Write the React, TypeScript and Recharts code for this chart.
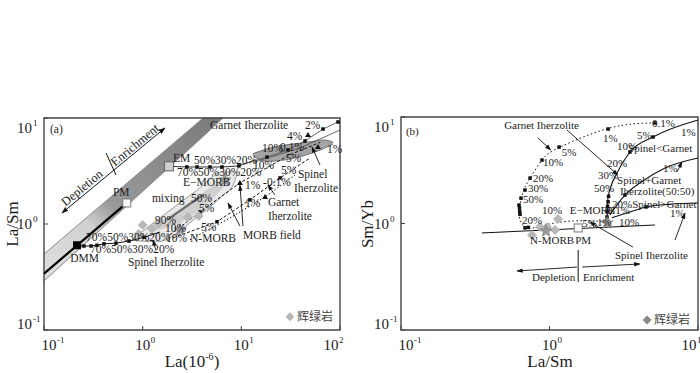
import React from "react";
import { ComposedChart, XAxis, YAxis, Line, Area, Scatter, ReferenceArea } from "recharts";

const SERIF = '"Liberation Serif", "Times New Roman", serif';
const CJK = '"Noto Sans CJK SC", "Noto Sans CJK JP", sans-serif';
const INK = "#1c1c1c";

// ---------- panel (a): La/Sm vs La ----------
const aXTicks = [0.1, 1, 10, 100];
const aYTicks = [0.1, 1, 10];

const aBand = [[0.1, 0.29, 0.52], [4.1, 6.7, 10], [6.5, 10, 10]];
const aDmmPm = [[0.1, 0.34], [0.69, 1.58]];
const aDmmMix = [[0.216, 0.63], [0.254, 0.62], [0.3, 0.62], [0.344, 0.63], [0.405, 0.65], [0.537, 0.66], [0.727, 0.69], [1.03, 0.75], [1.5, 0.84]];
const aEmMix = [[1.85, 3.5], [2.81, 3.45], [3.56, 3.45], [4.81, 3.45], [6.37, 3.45], [9.46, 3.53], [13.7, 4.0]];
const aMorbField = [[0.8, 0.7, 0.73], [1.4, 0.68, 1.09], [3.56, 1.16, 2.09], [6.5, 1.86, 3.1], [8.2, 2.3, 3.1], [9.0, 2.9, 3.05]];
const aMorbInner = [[1.3, 0.86, 0.92], [2.5, 1.05, 1.45], [4.5, 1.55, 2.1], [6.8, 2.3, 2.75]];
const aGarnetField = [[13.1, 4.4, 4.6], [18, 3.9, 5.1], [46, 4.5, 5.9], [70, 5.2, 6.2], [85, 5.7, 5.9]];
const aGarnetLine = [[9.68, 3.6], [18.2, 4.28], [29.7, 5.0], [44.2, 6.07], [67.3, 7.87], [95.5, 9.17]];
const aSpinelLine = [[13.7, 3.85], [39.3, 5.21], [100, 7.7]];
const aMixLine = [[1.76, 1.09], [4.09, 1.88]];
const aDash1 = [[1.89, 0.79], [3.81, 1.3], [9.68, 2.44], [31, 4.5], [63, 5.9]];
const aDash2 = [[2.03, 0.74], [5.67, 1.05], [12.2, 1.69], [24.7, 2.72], [49.7, 4.2]];
const aDash3 = [[3.02, 0.71], [7.67, 1.14], [17.4, 1.8], [35, 2.9]];
const aSquares = [...aDmmMix.slice(1, 8), ...aEmMix.slice(1, 6), ...aGarnetLine.slice(1), [12.2, 1.69], [24.7, 2.72], [5.67, 1.05], [3.81, 1.3]];
const aTriangles = [[47.4, 6.9], [59.8, 5.32], [9.68, 2.44], [17.4, 1.8]];
const aDiamonds = [[1.0, 0.98], [0.91, 0.81], [1.24, 0.9], [1.43, 1.0], [2.87, 1.16], [3.7, 1.19]];
const aStars = [[2.4, 0.88], [6.8, 2.6]];
const aPM = [[0.69, 1.58]];
const aEM = [[1.85, 3.5]];
const aDMM = [[0.216, 0.63]];
const aArrows = [
  [[1.36, 0.569], [1.27, 0.706]],
  [[9.68, 0.957], [7.33, 1.58]],
  [[10.4, 0.957], [9.68, 2.33]],
  [[21.9, 1.88], [18.6, 2.33]],
  [[62.7, 3.6], [52, 5.33]],
];
const aTrend = [[0.152, 1.27], [1.68, 8.05]];
const aDivider = [[0.425, 4.68], [0.537, 2.9]];
const aTrendLabels: [number, number, string][] = [[0.243, 2.19, "Depletion"], [0.836, 5.56, "Enrichment"]];
const aLabels: [number, number, string][] = [
  [0.115, 7.21, "(a)"],
  [4.81, 7.87, "Garnet  Iherzolite"],
  [44.2, 7.87, "2%"],
  [29, 6.2, "4%"],
  [16.2, 4.78, "10%"],
  [24.7, 4.89, "0.1%"],
  [73.8, 4.68, "1%"],
  [28.4, 3.85, "5%"],
  [25.2, 2.96, "5%"],
  [37.5, 2.72, "Spinel"],
  [34.2, 2.0, "Iherzolite"],
  [16.6, 2.28, "-0.1%"],
  [10.9, 2.14, "1%"],
  [18.6, 1.48, "Garnet"],
  [18.6, 1.09, "Iherzolite"],
  [10.9, 1.45, "1%"],
  [10.4, 0.722, "MORB field"],
  [2.03, 3.85, "EM"],
  [3.31, 3.68, "50%30%20%"],
  [13.1, 3.3, "10%"],
  [2.23, 2.84, "70%50%30%20%"],
  [2.56, 2.28, "E\u2212MORB"],
  [1.24, 1.61, "mixing"],
  [3.09, 1.61, "50%"],
  [0.5, 1.84, "PM"],
  [3.72, 1.3, "5%"],
  [3.9, 0.859, "5%"],
  [1.33, 1.0, "90%"],
  [1.68, 0.84, "10%"],
  [1.72, 0.676, "10%"],
  [3.02, 0.676, "N-MORB"],
  [0.267, 0.692, "70%50%30%20%"],
  [0.292, 0.532, "70%50%30%20%"],
  [0.184, 0.438, "DMM"],
  [0.71, 0.402, "Spinel Iherzolite"],
];
const aLegendMark = [[31.1, 0.133]];
const aLegendText: [number, number, string][] = [[36.6, 0.1216, "辉绿岩"]];

// ---------- panel (b): Sm/Yb vs La/Sm ----------
const bXTicks = [0.1, 1, 10];
const bYTicks = [0.1, 1, 10];

const bHoriz = [[0.351, 0.815], [5.13, 0.968]];
const bGarnetCurve = [[5.13, 8.79], [2.55, 7.89], [1.18, 5.22], [0.89, 3.94], [0.74, 2.67], [0.664, 1.98], [0.633, 1.49], [0.623, 1.25], [0.643, 1.03], [0.706, 0.908], [0.824, 0.927], [1.18, 1.03], [1.79, 1.06], [2.44, 1.03]];
const bSpLtGt = [[2.44, 1.08], [2.48, 1.77], [2.85, 2.98], [3.48, 4.69], [4.98, 6.49], [10, 9.37]];
const bSpEqGt = [[2.55, 1.2], [3.22, 1.85], [4.06, 2.4], [6.0, 3.32], [10, 4.12]];
const bSpGtGt = [[2.63, 1.13], [3.48, 1.28], [4.47, 1.43], [6.58, 1.52], [10, 1.56]];
const bSquares = [[5.13, 8.79], [2.48, 7.71], [1.16, 5.22], [0.89, 3.94], [0.74, 2.67], [0.684, 2.06], [0.643, 1.73], [0.623, 1.49], [0.628, 1.4], [0.63, 1.3], [0.633, 1.22], [0.684, 0.91], [0.72, 0.92], [3.48, 4.69], [4.98, 6.49], [2.44, 1.15], [2.45, 1.3], [2.46, 1.45], [2.48, 1.6], [2.5, 1.8], [3.22, 1.85], [4.47, 1.43]];
const bDiamonds = [[0.762, 0.78], [0.863, 0.927], [0.962, 0.927], [1.09, 0.869], [1.14, 1.1]];
const bStars = [[0.947, 0.85], [2.44, 1.01]];
const bPM = [[1.56, 0.908]];
const bArrows = [
  [[0.837, 6.35], [1.02, 4.9]],
  [[1.31, 7.55], [2.89, 2.85]],
  [[3.65, 0.6], [1.87, 1.03]],
  [[7.0, 0.7], [8.18, 1.25]],
  [[7.22, 3.05], [7.8, 3.78]],
  [[1.53, 0.39], [0.604, 0.358]],
  [[1.66, 0.39], [4.06, 0.417]],
];
const bDivider = [[1.56, 0.564], [1.56, 0.282]];
const bLabels: [number, number, string][] = [
  [0.108, 6.78, "(b)"],
  [0.495, 7.71, "Garnet  Iherzolite"],
  [4.9, 8.05, "0.1%"],
  [7.68, 6.63, "1%"],
  [3.88, 6.21, "5%"],
  [2.29, 5.82, "1%"],
  [2.85, 4.9, "10%"],
  [3.38, 4.69, "Spinel<Garnet"],
  [1.21, 4.31, "5%"],
  [0.904, 3.47, "10%"],
  [0.774, 2.45, "20%"],
  [0.717, 1.98, "30%"],
  [0.664, 1.56, "50%"],
  [2.44, 3.39, "20%"],
  [2.12, 2.62, "30%"],
  [2.85, 2.35, "Spinel+Garnet"],
  [1.99, 1.98, "50%"],
  [2.98, 1.84, "Iherzolite(50:50)"],
  [5.81, 3.04, "1%"],
  [2.64, 1.4, "20%Spinel>Garnet"],
  [1.37, 1.23, "E\u2212MORB"],
  [2.44, 1.22, "0.1%"],
  [6.47, 1.15, "1%"],
  [2.94, 0.947, "10%"],
  [0.89, 1.23, "10%"],
  [0.653, 0.989, "20%"],
  [1.66, 0.927, "5%"],
  [2.09, 0.947, "1%"],
  [0.74, 0.642, "N-MORB"],
  [1.49, 0.642, "PM"],
  [2.76, 0.465, "Spinel Iherzolite"],
  [0.762, 0.288, "Depletion"],
  [1.68, 0.288, "Enrichment"],
];
const bLegendMark = [[4.54, 0.124]];
const bLegendText: [number, number, string][] = [[5.06, 0.1138, "辉绿岩"]];

// ---------- helpers ----------
const pts = (a: number[][]) => a.map(([x, y]) => ({ x, y }));
const rng = (a: number[][]) => a.map(([x, lo, hi]) => ({ x, r: [lo, hi] }));
const lbl = (a: [number, number, string][]) => a.map(([x, y, t]) => ({ x, y, t }));
// tick positions along the bottom / left edge of a log axis
const xTickPts = (ticks: number[], y0: number) =>
  ticks.map((v, i) => ({ x: v, y: y0, e: Math.round(Math.log10(v)), pos: i === 0 ? "lo" : i === ticks.length - 1 ? "hi" : "mid" }));
const yTickPts = (ticks: number[], x0: number) =>
  ticks.map((v, i) => ({ x: x0, y: v, e: Math.round(Math.log10(v)), pos: i === 0 ? "lo" : i === ticks.length - 1 ? "hi" : "mid" }));

const squareShape = (s: number, fill: string, stroke = "none") => (p: any) => (
  <rect x={p.cx - s / 2} y={p.cy - s / 2} width={s} height={s} fill={fill} stroke={stroke} strokeWidth={1} />
);
const diamondShape = (r: number, fill: string) => (p: any) => (
  <polygon points={`${p.cx},${p.cy - r} ${p.cx + r},${p.cy} ${p.cx},${p.cy + r} ${p.cx - r},${p.cy}`} fill={fill} />
);
const triShape = (p: any) => (
  <polygon points={`${p.cx},${p.cy - 3} ${p.cx + 3},${p.cy + 2} ${p.cx - 3},${p.cy + 2}`} fill="#111" />
);
const starShape = (p: any) => {
  const c: string[] = [];
  for (let i = 0; i < 10; i++) {
    const r = i % 2 === 0 ? 6.5 : 2.8;
    const a = (Math.PI / 5) * i - Math.PI / 2;
    c.push(`${p.cx + r * Math.cos(a)},${p.cy + r * Math.sin(a)}`);
  }
  return <polygon points={c.join(" ")} fill="#9a9a9a" stroke="#777" strokeWidth={0.6} />;
};
const textShape = (size: number) => (p: any) => (
  <text x={p.cx} y={p.cy} fontSize={size} fontFamily={SERIF} fill={INK}>
    {p.payload.t}
  </text>
);
const rotText = (angle: number) => (p: any) => (
  <text
    x={p.cx}
    y={p.cy}
    fontSize={12.5}
    fontFamily={SERIF}
    fill={INK}
    textAnchor="middle"
    dominantBaseline="central"
    transform={`rotate(${angle} ${p.cx} ${p.cy})`}
  >
    {p.payload.t}
  </text>
);
const cjkShape = (p: any) => (
  <text x={p.cx} y={p.cy} fontSize={12} fontFamily={CJK} fill="#444">
    {p.payload.t}
  </text>
);

const xTickShape = (p: any) => {
  const { cx, cy, payload } = p;
  const dx = payload.pos === "lo" ? 5 : payload.pos === "hi" ? -9 : 0;
  return (
    <g>
      <line x1={cx} y1={cy} x2={cx} y2={cy - 4} stroke="#444" />
      <text x={cx + dx} y={cy + 20} fontSize={15} textAnchor="middle" fontFamily={SERIF} fill={INK}>10</text>
      <text x={cx + dx + 8} y={cy + 13} fontSize={9} fontFamily={SERIF} fill={INK}>{payload.e}</text>
    </g>
  );
};
const yTickShape = (p: any) => {
  const { cx, cy, payload } = p;
  const dy = payload.pos === "hi" ? 10 : payload.pos === "lo" ? -6 : 0;
  return (
    <g>
      <line x1={cx} y1={cy} x2={cx + 4} y2={cy} stroke="#444" />
      <text x={cx - 12} y={cy + dy + 5} fontSize={15} textAnchor="end" fontFamily={SERIF} fill={INK}>10</text>
      <text x={cx - 11} y={cy + dy - 2} fontSize={9} fontFamily={SERIF} fill={INK}>{payload.e}</text>
    </g>
  );
};

const chartDefs = (id: string) => (
  <defs>
    <marker id={id} viewBox="0 0 10 10" refX="9" refY="5" markerWidth="7" markerHeight="7" orient="auto-start-reverse">
      <path d="M0,1.5 L10,5 L0,8.5 z" fill="#111" />
    </marker>
    <linearGradient id="bandGrad" x1="0" y1="1" x2="1" y2="0">
      <stop offset="0%" stopColor="#e0e0e0" />
      <stop offset="30%" stopColor="#d0d0d0" />
      <stop offset="42%" stopColor="#9a9a9a" />
      <stop offset="100%" stopColor="#7a7a7a" />
    </linearGradient>
  </defs>
);

function PanelA() {
  return (
    <ComposedChart width={350} height={373} margin={{ top: 118, right: 10, bottom: 43, left: 44 }}>
      {chartDefs("ahA")}
      <XAxis dataKey="x" type="number" scale="log" domain={[0.1, 100]} height={0} axisLine={false} tickLine={false} tick={false} />
      <YAxis dataKey="y" type="number" scale="log" domain={[0.1, 10]} width={0} axisLine={false} tickLine={false} tick={false} />
      <Area data={rng(aBand)} dataKey="r" type="linear" fill="url(#bandGrad)" fillOpacity={1} stroke="#8a8a8a" strokeWidth={1} isAnimationActive={false} dot={false} activeDot={false} />
      <Area data={rng(aMorbField)} dataKey="r" type="monotone" fill="#e9e9e9" fillOpacity={1} stroke="#9a9a9a" strokeWidth={1} isAnimationActive={false} dot={false} activeDot={false} />
      <Area data={rng(aMorbInner)} dataKey="r" type="monotone" fill="#cfcfcf" fillOpacity={1} stroke="none" isAnimationActive={false} dot={false} activeDot={false} />
      <Area data={rng(aGarnetField)} dataKey="r" type="monotone" fill="#a4a4a4" fillOpacity={1} stroke="#6e6e6e" strokeWidth={1} isAnimationActive={false} dot={false} activeDot={false} />
      <Line data={pts(aDmmPm)} dataKey="y" stroke="#000" strokeWidth={2.2} dot={false} activeDot={false} isAnimationActive={false} />
      <Line data={pts(aMixLine)} dataKey="y" stroke="#666" strokeWidth={2} dot={false} activeDot={false} isAnimationActive={false} />
      <Line data={pts(aDmmMix)} dataKey="y" stroke="#111" strokeWidth={1} dot={false} activeDot={false} isAnimationActive={false} />
      <Line data={pts(aEmMix)} dataKey="y" stroke="#333" strokeWidth={1} dot={false} activeDot={false} isAnimationActive={false} />
      <Line data={pts(aGarnetLine)} dataKey="y" stroke="#555" strokeWidth={0.9} dot={false} activeDot={false} isAnimationActive={false} />
      <Line data={pts(aSpinelLine)} dataKey="y" stroke="#555" strokeWidth={0.9} dot={false} activeDot={false} isAnimationActive={false} />
      <Line data={pts(aDash1)} dataKey="y" stroke="#111" strokeWidth={1} strokeDasharray="3 2" dot={false} activeDot={false} isAnimationActive={false} />
      <Line data={pts(aDash2)} dataKey="y" stroke="#111" strokeWidth={1} strokeDasharray="3 2" dot={false} activeDot={false} isAnimationActive={false} />
      <Line data={pts(aDash3)} dataKey="y" stroke="#111" strokeWidth={1} strokeDasharray="1.5 2" dot={false} activeDot={false} isAnimationActive={false} />
      {aArrows.map((a, i) => (
        <Line key={`aa${i}`} data={pts(a)} dataKey="y" stroke="#111" strokeWidth={0.9} markerEnd="url(#ahA)" dot={false} activeDot={false} isAnimationActive={false} />
      ))}
      <Line data={pts(aTrend)} dataKey="y" stroke="#111" strokeWidth={1} markerStart="url(#ahA)" markerEnd="url(#ahA)" dot={false} activeDot={false} isAnimationActive={false} />
      <Line data={pts(aDivider)} dataKey="y" stroke="#111" strokeWidth={1} dot={false} activeDot={false} isAnimationActive={false} />
      <Scatter data={pts(aSquares)} shape={squareShape(3.5, "#111")} isAnimationActive={false} />
      <Scatter data={pts(aTriangles)} shape={triShape} isAnimationActive={false} />
      <Scatter data={pts(aDiamonds)} shape={diamondShape(5, "#b8b8b8")} isAnimationActive={false} />
      <Scatter data={pts(aStars)} shape={starShape} isAnimationActive={false} />
      <Scatter data={pts(aDMM)} shape={squareShape(8, "#000")} isAnimationActive={false} />
      <Scatter data={pts(aPM)} shape={squareShape(8, "#fafafa", "#777")} isAnimationActive={false} />
      <Scatter data={pts(aEM)} shape={squareShape(9, "#cfcfcf", "#666")} isAnimationActive={false} />
      <Scatter data={lbl(aLabels)} shape={textShape(11.5)} isAnimationActive={false} />
      <Scatter data={lbl(aTrendLabels)} shape={rotText(-39.5)} isAnimationActive={false} />
      <Scatter data={pts(aLegendMark)} shape={diamondShape(4.5, "#b8b8b8")} isAnimationActive={false} />
      <Scatter data={lbl(aLegendText)} shape={cjkShape} isAnimationActive={false} />
      <Scatter data={xTickPts(aXTicks, 0.1)} shape={xTickShape} isAnimationActive={false} />
      <Scatter data={yTickPts(aYTicks, 0.1)} shape={yTickShape} isAnimationActive={false} />
      <ReferenceArea x1={0.1} x2={100} y1={0.1} y2={10} fill="none" stroke="#444" strokeWidth={1.4} />
      <text x={12} y={224} fontSize={17} fontFamily={SERIF} fill={INK} textAnchor="middle" dominantBaseline="central" transform="rotate(-90 12 224)">
        La/Sm
      </text>
      <text x={192} y={367} fontSize={17} fontFamily={SERIF} fill={INK} textAnchor="middle">
        La(10<tspan fontSize={10} dy={-7}>-6</tspan><tspan dy={7}>)</tspan>
      </text>
    </ComposedChart>
  );
}

function PanelB() {
  return (
    <ComposedChart width={350} height={373} margin={{ top: 117, right: 2, bottom: 43, left: 51 }}>
      {chartDefs("ahB")}
      <XAxis dataKey="x" type="number" scale="log" domain={[0.1, 10]} height={0} axisLine={false} tickLine={false} tick={false} />
      <YAxis dataKey="y" type="number" scale="log" domain={[0.1, 10]} width={0} axisLine={false} tickLine={false} tick={false} />
      <Line data={pts(bHoriz)} dataKey="y" stroke="#111" strokeWidth={1} dot={false} activeDot={false} isAnimationActive={false} />
      <Line data={pts(bGarnetCurve)} dataKey="y" type="natural" stroke="#111" strokeWidth={1} strokeDasharray="1.5 2.5" dot={false} activeDot={false} isAnimationActive={false} />
      <Line data={pts(bSpLtGt)} dataKey="y" type="monotone" stroke="#111" strokeWidth={1.1} dot={false} activeDot={false} isAnimationActive={false} />
      <Line data={pts(bSpEqGt)} dataKey="y" type="monotone" stroke="#111" strokeWidth={1.1} dot={false} activeDot={false} isAnimationActive={false} />
      <Line data={pts(bSpGtGt)} dataKey="y" type="monotone" stroke="#111" strokeWidth={1.1} dot={false} activeDot={false} isAnimationActive={false} />
      {bArrows.map((a, i) => (
        <Line key={`ba${i}`} data={pts(a)} dataKey="y" stroke="#111" strokeWidth={0.9} markerEnd="url(#ahB)" dot={false} activeDot={false} isAnimationActive={false} />
      ))}
      <Line data={pts(bDivider)} dataKey="y" stroke="#111" strokeWidth={1} dot={false} activeDot={false} isAnimationActive={false} />
      <Scatter data={pts(bSquares)} shape={squareShape(3.5, "#111")} isAnimationActive={false} />
      <Scatter data={pts(bDiamonds)} shape={diamondShape(5, "#b8b8b8")} isAnimationActive={false} />
      <Scatter data={pts(bStars)} shape={starShape} isAnimationActive={false} />
      <Scatter data={pts(bPM)} shape={squareShape(8, "#fafafa", "#777")} isAnimationActive={false} />
      <Scatter data={lbl(bLabels)} shape={textShape(11)} isAnimationActive={false} />
      <Scatter data={pts(bLegendMark)} shape={diamondShape(4.5, "#888")} isAnimationActive={false} />
      <Scatter data={lbl(bLegendText)} shape={cjkShape} isAnimationActive={false} />
      <Scatter data={xTickPts(bXTicks, 0.1)} shape={xTickShape} isAnimationActive={false} />
      <Scatter data={yTickPts(bYTicks, 0.1)} shape={yTickShape} isAnimationActive={false} />
      <ReferenceArea x1={0.1} x2={10} y1={0.1} y2={10} fill="none" stroke="#444" strokeWidth={1.4} />
      <text x={17} y={224} fontSize={17} fontFamily={SERIF} fill={INK} textAnchor="middle" dominantBaseline="central" transform="rotate(-90 17 224)">
        Sm/Yb
      </text>
      <text x={200} y={367} fontSize={17} fontFamily={SERIF} fill={INK} textAnchor="middle">
        La/Sm
      </text>
    </ComposedChart>
  );
}

export default function App() {
  return (
    <div style={{ position: "absolute", left: 0, top: 0, width: 700, height: 373, background: "#fff", overflow: "hidden" }}>
      <div style={{ position: "absolute", left: 0, top: 0 }}>
        <PanelA />
      </div>
      <div style={{ position: "absolute", left: 350, top: 0 }}>
        <PanelB />
      </div>
    </div>
  );
}
